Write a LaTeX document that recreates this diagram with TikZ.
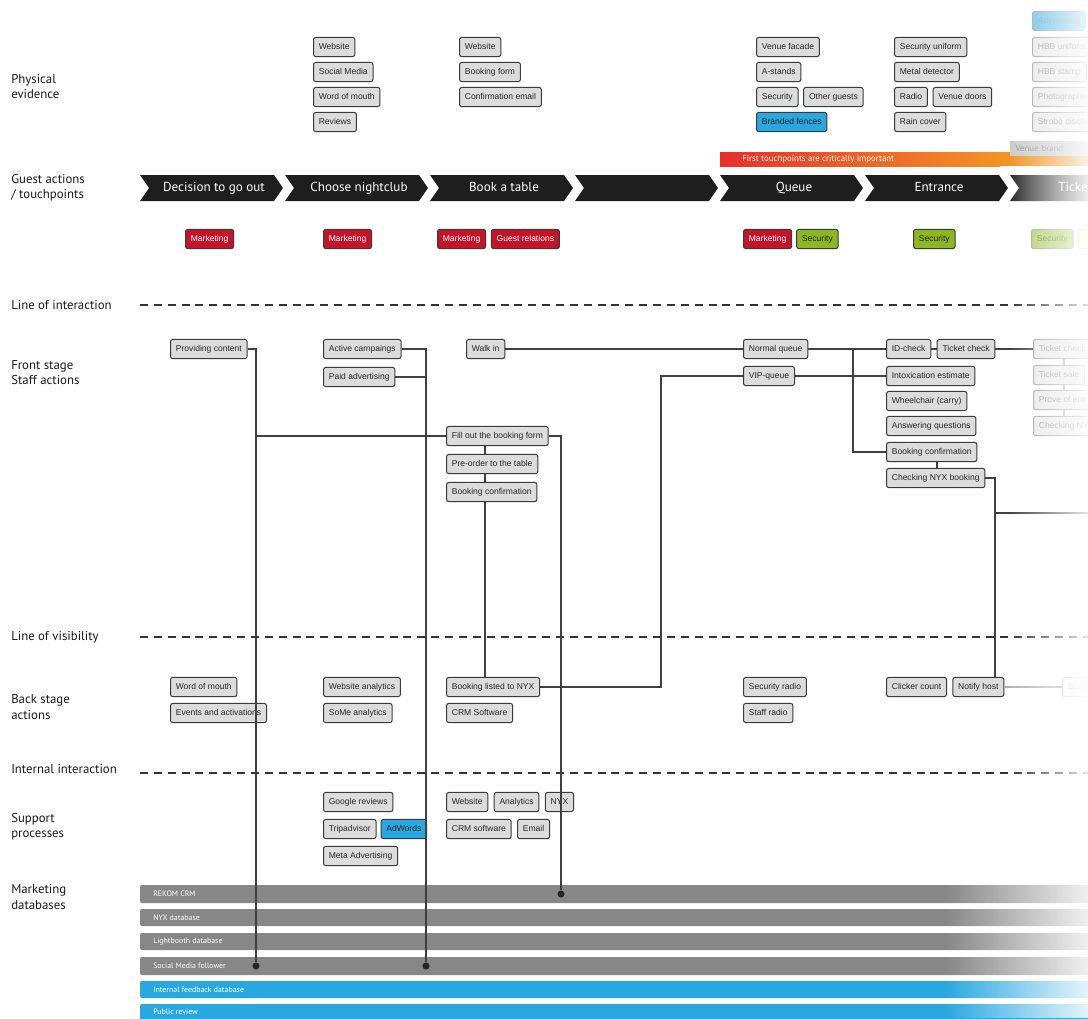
\documentclass[tikz,border=0pt]{standalone}
\usepackage{fontspec}
\setmainfont{Liberation Sans}
\newfontfamily\labelfont{PT Sans}
\usepackage{tikz}
\usetikzlibrary{positioning, fadings}
\definecolor{boxgray}{HTML}{DCDCDC}
\definecolor{edgegray}{HTML}{3A3A3A}
\definecolor{tagred}{HTML}{C3142B}
\definecolor{taggreen}{HTML}{8DB71E}
\definecolor{tagblue}{HTML}{29A8E0}
\definecolor{dbgray}{HTML}{878787}
\definecolor{tpred}{HTML}{E6302B}
\definecolor{tporange}{HTML}{F39325}
\definecolor{chevblack}{HTML}{1E1E1E}
\tikzfading[name=fadetoright, left color=transparent!100, right color=transparent!12]
\tikzset{
  card/.style = {rectangle, rounded corners=1.6pt, draw=edgegray, line width=0.75pt, fill=boxgray, text=black!85, font=\fontsize{6.4}{7}\selectfont, inner xsep=4pt, inner ysep=0pt, minimum height=14.3pt, text height=4.7pt, text depth=1.4pt, anchor=west},
  card_b/.style = {card, fill=tagblue},
  card_f/.style = {card, draw=gray!75, fill=gray!18, text=gray!85},
  card_bf/.style = {card_f, fill=tagblue!75},
  tag_r/.style = {card, fill=tagred, text=white},
  tag_g/.style = {card, fill=taggreen},
  tag_gf/.style = {card_f, fill=taggreen!70, text=taggreen!70!black},
  tag_yf/.style = {card_f, fill=yellow!20, draw=gray!45},
  rowlabel/.style = {anchor=west, align=left, font=\labelfont\fontsize{9.6}{11.3}\selectfont, text=black!90, inner sep=0pt},
  stage/.style = {font=\labelfont\fontsize{9.8}{12}\selectfont, text=white, inner sep=0pt, text height=7pt, text depth=2pt},
  tptext/.style = {anchor=west, font=\labelfont\fontsize{6.6}{8}\selectfont, text=white, inner sep=0pt},
  vbrand/.style = {anchor=west, fill=gray!40, text=gray!85, font=\labelfont\fontsize{6.6}{8}\selectfont, minimum height=11pt, text width=90pt, align=left, inner xsep=4pt},
  sepline/.style = {dash pattern=on 6pt off 4.4pt, line width=1.1pt, draw=black!80},
  link/.style = {line width=0.9pt, draw=black!75},
  link_f/.style = {link, draw=gray!60},
  dot/.style = {circle, fill=black!85, inner sep=0pt, minimum size=5.3pt},
  dbtext/.style = {anchor=west, font=\labelfont\fontsize{5.9}{7}\selectfont, text=white, inner sep=0pt}
}

\begin{document}
\begin{tikzpicture}[x=0.75pt, y=-0.75pt]
\useasboundingbox (0,0) rectangle (1088,1018);

\node[rowlabel] (lb_phys) at (11,87) {Physical\\evidence};
\node[rowlabel] (lb_guest) at (11,188) {Guest actions\\/ touchpoints};
\node[rowlabel] (lb_inter) at (11,305) {Line of interaction};
\node[rowlabel] (lb_front) at (11,373) {Front stage\\Staff actions};
\node[rowlabel] (lb_visib) at (11,637) {Line of visibility};
\node[rowlabel] (lb_back) at (11,707) {Back stage\\actions};
\node[rowlabel] (lb_intern) at (11,769) {Internal interaction};
\node[rowlabel] (lb_supp) at (11,827) {Support\\processes};
\node[rowlabel] (lb_mdb) at (11,897) {Marketing\\databases};

\node[card] (pe_web1) at (313,47) {Website};
\node[card] (pe_soc) at (313,72) {Social Media};
\node[card] (pe_wom) at (313,97) {Word of mouth};
\node[card] (pe_rev) at (313,122) {Reviews};
\node[card] (pe_web2) at (459,47) {Website};
\node[card] (pe_form) at (459,72) {Booking form};
\node[card] (pe_mail) at (459,97) {Confirmation email};
\node[card] (pe_facade) at (756,47) {Venue facade};
\node[card] (pe_astand) at (756,72) {A-stands};
\node[card] (pe_sec) at (756,97) {Security};
\node[card, right=3.5pt of pe_sec] (pe_other) {Other guests};
\node[card_b] (pe_fence) at (756,122) {Branded fences};
\node[card] (pe_unif) at (894,47) {Security uniform};
\node[card] (pe_metal) at (894,72) {Metal detector};
\node[card] (pe_radio) at (894,97) {Radio};
\node[card, right=3.5pt of pe_radio] (pe_doors) {Venue doors};
\node[card] (pe_rain) at (894,122) {Rain cover};
\node[card_bf] (pe_adv) at (1032,21) {Advertising};
\node[card_f] (pe_hbbu) at (1032,47) {HBB uniform};
\node[card_f] (pe_hbbs) at (1032,72) {HBB stamp};
\node[card_f] (pe_photo) at (1032,97) {Photographer};
\node[card_f] (pe_strobo) at (1032,122) {Strobo disco};

\shade[left color=tpred, right color=tporange] (720,152) rectangle (1000,166);
\fill[tporange] (999,152) rectangle (1088,166);
\node[tptext] (tp_first) at (742,159.5) {First touchpoints are critically important};
\node[vbrand] (tp_venue) at (1010,148.5) {Venue brand};

\fill[chevblack] (140,175) -- (274,175) -- (283,188) -- (274,201) -- (140,201) -- (149,188) -- cycle;
\fill[chevblack] (285,175) -- (419,175) -- (428,188) -- (419,201) -- (285,201) -- (294,188) -- cycle;
\fill[chevblack] (430,175) -- (564,175) -- (573,188) -- (564,201) -- (430,201) -- (439,188) -- cycle;
\fill[chevblack] (575,175) -- (709,175) -- (718,188) -- (709,201) -- (575,201) -- (584,188) -- cycle;
\fill[chevblack] (720,175) -- (854,175) -- (863,188) -- (854,201) -- (720,201) -- (729,188) -- cycle;
\fill[chevblack] (865,175) -- (999,175) -- (1008,188) -- (999,201) -- (865,201) -- (874,188) -- cycle;
\shade[left color=black!85, right color=black!30] (1010,175) -- (1144,175) -- (1153,188) -- (1144,201) -- (1010,201) -- (1019,188) -- cycle;
\node[stage] (st_decide) at (214,188) {Decision to go out};
\node[stage] (st_choose) at (359,188) {Choose nightclub};
\node[stage] (st_book) at (504,188) {Book a table};
\node[stage] (st_queue) at (794,188) {Queue};
\node[stage] (st_entr) at (939,188) {Entrance};
\node[stage, anchor=west] (st_ticket) at (1058,188) {Ticket};

\node[tag_r] (tg_mkt1) at (185,239) {Marketing};
\node[tag_r] (tg_mkt2) at (323,239) {Marketing};
\node[tag_r] (tg_mkt3) at (437,239) {Marketing};
\node[tag_r, right=3.5pt of tg_mkt3] (tg_guest) {Guest relations};
\node[tag_r] (tg_mkt4) at (743,239) {Marketing};
\node[tag_g, right=3pt of tg_mkt4] (tg_sec1) {Security};
\node[tag_g] (tg_sec2) at (913,239) {Security};
\node[tag_gf] (tg_sec3) at (1031,239) {Security};
\node[tag_yf, right=3pt of tg_sec3] (tg_more) {\phantom{Security}};

\draw[sepline] (140,305) -- (1088,305);
\draw[sepline] (140,637) -- (1088,637);
\draw[sepline] (140,773) -- (1088,773);

\node[card] (fs_prov) at (170,349) {Providing content};
\node[card] (fs_camp) at (323,349) {Active campaings};
\node[card] (fs_paid) at (323,377) {Paid advertising};
\node[card] (fs_walk) at (466,349) {Walk in};
\node[card] (fs_form) at (446,436) {Fill out the booking form};
\node[card] (fs_pre) at (446,464) {Pre-order to the table};
\node[card] (fs_conf) at (446,492) {Booking confirmation};
\node[card] (fs_normq) at (743,349) {Normal queue};
\node[card] (fs_vipq) at (743,376) {VIP-queue};
\node[card] (fs_id) at (886,349) {ID-check};
\node[card, right=4pt of fs_id] (fs_tkt) {Ticket check};
\node[card] (fs_intox) at (886,376) {Intoxication estimate};
\node[card] (fs_wheel) at (886,401) {Wheelchair (carry)};
\node[card] (fs_answ) at (886,426) {Answering questions};
\node[card] (fs_conf2) at (886,452) {Booking confirmation};
\node[card] (fs_chk) at (886,478) {Checking NYX booking};
\node[card_f] (ft_tkt) at (1033,349) {Ticket check};
\node[card_f] (ft_sale) at (1033,375) {Ticket sale};
\node[card_f] (ft_prove) at (1033,400) {Prove of entry};
\node[card_f] (ft_chk) at (1033,426) {Checking NYX};

\node[card] (bs_wom) at (170,687) {Word of mouth};
\node[card] (bs_events) at (170,713) {Events and activations};
\node[card] (bs_webana) at (323,687) {Website analytics};
\node[card] (bs_some) at (323,713) {SoMe analytics};
\node[card] (bs_nyx) at (446,687) {Booking listed to NYX};
\node[card] (bs_crm) at (446,713) {CRM Software};
\node[card] (bs_secr) at (743,687) {Security radio};
\node[card] (bs_staffr) at (743,713) {Staff radio};
\node[card] (bs_click) at (886,687) {Clicker count};
\node[card, right=4pt of bs_click] (bs_notify) {Notify host};
\node[card_f, draw=gray!35, text=gray!35, fill=gray!6] (bs_fstaff) at (1062,687) {Staff};

\node[card] (sp_google) at (323,802) {Google reviews};
\node[card] (sp_trip) at (323,829) {Tripadvisor};
\node[card_b, right=3pt of sp_trip] (sp_adw) {AdWords};
\node[card] (sp_meta) at (323,856) {Meta Advertising};
\node[card] (sp_web) at (446,802) {Website};
\node[card, right=4pt of sp_web] (sp_ana) {Analytics};
\node[card, right=4pt of sp_ana] (sp_nyx) {NYX};
\node[card] (sp_crm) at (446,829) {CRM software};
\node[card, right=4pt of sp_crm] (sp_mail) {Email};

\fill[dbgray, rounded corners=1.5pt] (140,885) rectangle (1100,903);
\fill[dbgray, rounded corners=1.5pt] (140,909) rectangle (1100,926);
\fill[dbgray, rounded corners=1.5pt] (140,933) rectangle (1100,950);
\fill[dbgray, rounded corners=1.5pt] (140,957) rectangle (1100,975);
\fill[tagblue, rounded corners=1.5pt] (140,981) rectangle (1100,998);
\fill[tagblue, rounded corners=1.5pt] (140,1004) rectangle (1100,1024);
\fill[white, path fading=fadetoright] (945,880) rectangle (1088,1018);
\node[dbtext] (db_rekom) at (153,894) {REKOM CRM};
\node[dbtext] (db_nyx) at (153,917.5) {NYX database};
\node[dbtext] (db_light) at (153,941.5) {Lightbooth database};
\node[dbtext] (db_smf) at (153,966) {Social Media follower};
\node[dbtext] (db_intfb) at (153,989.5) {Internal feedback database};
\node[dbtext] (db_public) at (153,1012) {Public review};

\node[dot] (dot_smf1) at (256,966) {};
\node[dot] (dot_smf2) at (426,966) {};
\node[dot] (dot_rekom) at (561,894) {};

\coordinate (bk) at (485,0);
\coordinate (vipturn) at (661,376);
\coordinate (qturn) at (853,349);
\coordinate (cn) at (937,0);
\coordinate (nturn) at (995,513);
\coordinate (nexit) at (1088,513);
\coordinate (fk) at (1064,0);

\draw[link] (fs_prov.east) -| (dot_smf1);
\draw[link] (fs_form.west) -- (fs_form.west -| dot_smf1);
\draw[link] (fs_camp.east) -| (dot_smf2);
\draw[link] (fs_paid.east) -- (fs_paid.east -| dot_smf2);
\draw[link] (fs_form.east) -| (dot_rekom);
\draw[link] (fs_form.south -| bk) -- (fs_pre.north -| bk);
\draw[link] (fs_pre.south -| bk) -- (fs_conf.north -| bk);
\draw[link] (fs_conf.south -| bk) -- (bs_nyx.north -| bk);
\draw[link] (fs_walk.east) -- (fs_normq.west);
\draw[link] (bs_nyx.east) -| (vipturn) -- (fs_vipq.west);
\draw[link] (fs_normq.east) -- (fs_id.west);
\draw[link] (qturn) |- (fs_conf2.west);
\draw[link] (fs_vipq.east) -- (fs_intox.west);
\draw[link] (fs_id.east) -- (fs_tkt.west);
\draw[link] (fs_tkt.east) -- (ft_tkt.west);
\draw[link] (fs_conf2.south -| cn) -- (fs_chk.north -| cn);
\draw[link] (fs_chk.east) -| (bs_notify.north -| nturn);
\draw[link] (nturn) -- (nexit);
\draw[link_f] (bs_notify.east) -- (bs_fstaff.west);
\draw[link_f] (ft_tkt.south -| fk) -- (ft_sale.north -| fk);
\draw[link_f] (ft_sale.south -| fk) -- (ft_prove.north -| fk);
\draw[link_f] (ft_prove.south -| fk) -- (ft_chk.north -| fk);

\fill[white, path fading=fadetoright] (1008,0) rectangle (1088,880);
\end{tikzpicture}
\end{document}
